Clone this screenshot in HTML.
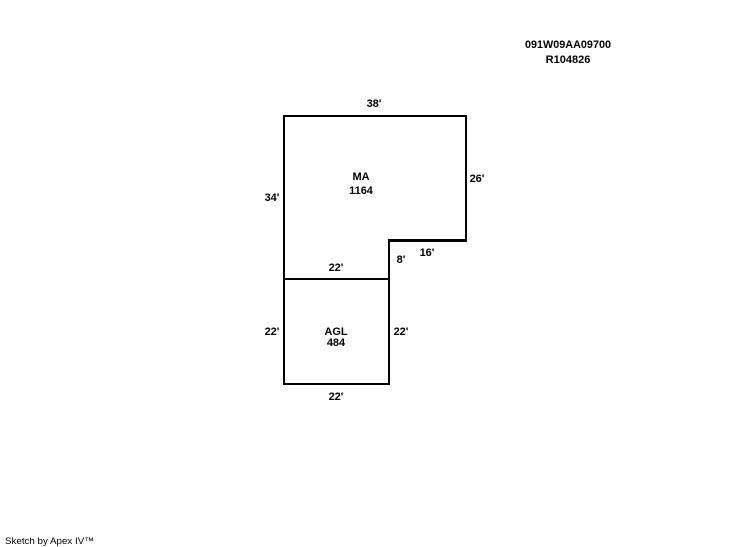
<!DOCTYPE html>
<html>
<head>
<meta charset="utf-8">
<style>
html,body{margin:0;padding:0;background:#fff;}
body{width:746px;height:547px;overflow:hidden;position:relative;}
svg{display:block;position:absolute;left:0;top:0;}
text{font-family:"Liberation Sans",sans-serif;font-weight:bold;font-size:11px;fill:#000;text-anchor:middle;}
</style>
</head>
<body>
<svg width="746" height="547" viewBox="0 0 746 547" xmlns="http://www.w3.org/2000/svg">
<g fill="#000" shape-rendering="crispEdges">
<rect x="283" y="115" width="184" height="2"/>
<rect x="283" y="115" width="2" height="270"/>
<rect x="465" y="115" width="2" height="127"/>
<rect x="388" y="239" width="79" height="3"/>
<rect x="388" y="239" width="2" height="146"/>
<rect x="283" y="278" width="107" height="2"/>
<rect x="283" y="383" width="107" height="2"/>
</g>
<text x="568" y="48" textLength="86" lengthAdjust="spacingAndGlyphs">091W09AA09700</text>
<text x="568" y="63">R104826</text>
<text x="374" y="107">38'</text>
<text x="477" y="182">26'</text>
<text x="272" y="201">34'</text>
<text x="361" y="180">MA</text>
<text x="361" y="194">1164</text>
<text x="427" y="256">16'</text>
<text x="401" y="263">8'</text>
<text x="336" y="271">22'</text>
<text x="272" y="335">22'</text>
<text x="401" y="335">22'</text>
<text x="336" y="335">AGL</text>
<text x="336" y="346">484</text>
<text x="336" y="400">22'</text>
<text x="5" y="544" textLength="89" lengthAdjust="spacingAndGlyphs" style="font-weight:normal;font-size:9.5px;text-anchor:start;">Sketch by Apex IV™</text>
</svg>
</body>
</html>
